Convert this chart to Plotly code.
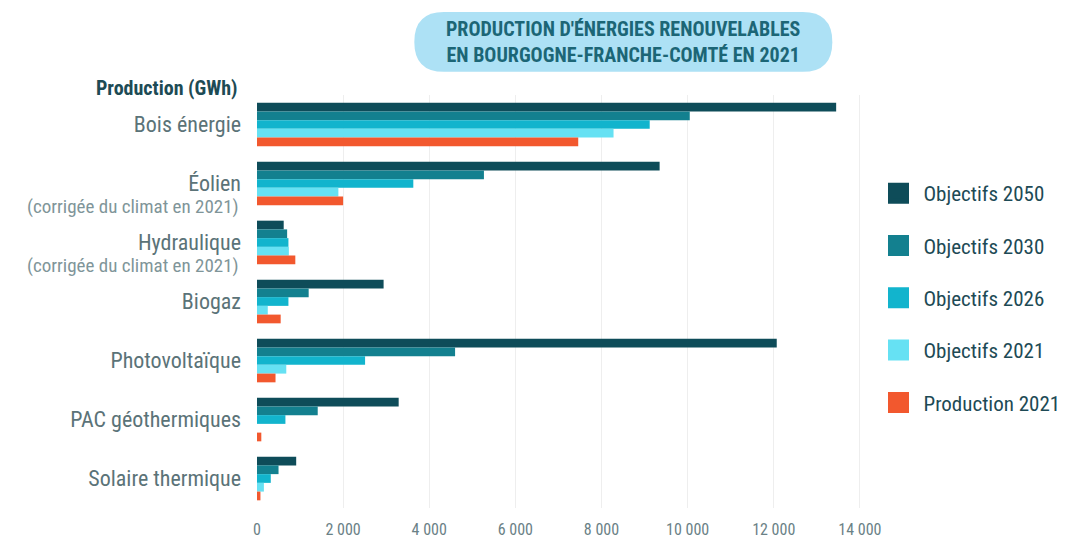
import plotly.graph_objects as go

categories = ["Bois énergie", "Éolien", "Hydraulique", "Biogaz", "Photovoltaïque",
              "PAC géothermiques", "Solaire thermique"]
sub_label = "(corrigée du climat en 2021)"
sub_label_categories = ["Éolien", "Hydraulique"]
series_names = ["Objectifs 2050", "Objectifs 2030", "Objectifs 2026", "Objectifs 2021", "Production 2021"]
obj_2050 = [13450, 9350, 620, 2940, 12070, 3290, 910]
obj_2030 = [10050, 5270, 700, 1200, 4600, 1410, 500]
obj_2026 = [9120, 3630, 730, 730, 2510, 660, 320]
obj_2021 = [8280, 1890, 740, 250, 680, 0, 160]
prod_2021 = [7460, 2000, 890, 550, 430, 100, 80]
x_ticks = [0, 2000, 4000, 6000, 8000, 10000, 12000, 14000]
x_tick_text = ["0", "2 000", "4 000", "6 000", "8 000", "10 000", "12 000", "14 000"]

colors = ["#0e4c59", "#13808f", "#12b4cd", "#66e1f3", "#f2582e"]
series = [obj_2050, obj_2030, obj_2026, obj_2021, prod_2021]

FONT = "Liberation Sans Narrow, Roboto Condensed, Roboto, sans-serif"

fig = go.Figure()
for name, vals, col in zip(series_names, series, colors):
    fig.add_trace(go.Bar(
        y=categories, x=vals, orientation="h", name=name,
        marker=dict(color=col, line=dict(width=0)),
        legendgroup=name, showlegend=False,
    ))
for name, col in zip(series_names, colors):
    fig.add_trace(go.Scatter(
        x=[None], y=[None], mode="markers", name=name, legendgroup=name,
        marker=dict(symbol="square", size=18, color=col, line=dict(color=col, width=6)),
    ))

# rounded title pill (paper coordinates)
x0, x1 = 0.260, 0.951
yb, yt = 1.056, 1.201
rx = 0.049
ym = (yb + yt) / 2
pill = (f"M {x0+rx},{yt} L {x1-rx},{yt} Q {x1},{yt} {x1},{ym} Q {x1},{yb} {x1-rx},{yb} "
        f"L {x0+rx},{yb} Q {x0},{yb} {x0},{ym} Q {x0},{yt} {x0+rx},{yt} Z")

annotations = [
    dict(text="<b>PRODUCTION D'ÉNERGIES RENOUVELABLES<br>EN BOURGOGNE-FRANCHE-COMTÉ EN 2021</b>",
         xref="paper", yref="paper", x=(x0 + x1) / 2, y=ym, xanchor="center", yanchor="middle",
         showarrow=False, align="center", font=dict(size=20, color="#1c6676", family=FONT)),
    dict(text="<b>Production (GWh)</b>", xref="paper", yref="paper", x=-0.028, y=1.017,
         xanchor="right", yanchor="middle", showarrow=False,
         font=dict(size=20, color="#1d4b55", family=FONT)),
]
for cat in sub_label_categories:
    annotations.append(dict(
        text=sub_label, xref="paper", yref="y", x=-0.026, y=cat, yshift=-23,
        xanchor="right", yanchor="middle", showarrow=False,
        font=dict(size=19, color="#7f9599", family=FONT)))

fig.update_layout(
    width=1069, height=534,
    margin=dict(l=249, r=212, t=87, b=34),
    paper_bgcolor="white", plot_bgcolor="white",
    barmode="group", bargap=0.26, bargroupgap=0,
    font=dict(family=FONT, color="#5b7378"),
    showlegend=True,
    legend=dict(x=1.019, y=0.811, xanchor="left", yanchor="top",
                font=dict(size=21, color="#1d4a55", family=FONT),
                tracegroupgap=22, itemsizing="trace", itemwidth=40,
                bgcolor="rgba(0,0,0,0)"),
    xaxis=dict(range=[0, 14050], tickvals=x_ticks, ticktext=x_tick_text,
               showgrid=True, gridcolor="#eeeeee", gridwidth=1, zeroline=False,
               showline=False, ticks="", ticklabelstandoff=10, automargin=False,
               tickfont=dict(size=16, color="#6a8186"), fixedrange=True),
    yaxis=dict(autorange="reversed", tickvals=categories, ticktext=categories,
               showgrid=False, zeroline=False, showline=False, ticks="", automargin=False,
               ticklabelstandoff=15, tickfont=dict(size=22, color="#5b7378")),
    shapes=[dict(type="path", xref="paper", yref="paper", path=pill,
                 fillcolor="#ade1f5", line=dict(width=0), layer="below")],
    annotations=annotations,
)

fig.write_html("out.html")
